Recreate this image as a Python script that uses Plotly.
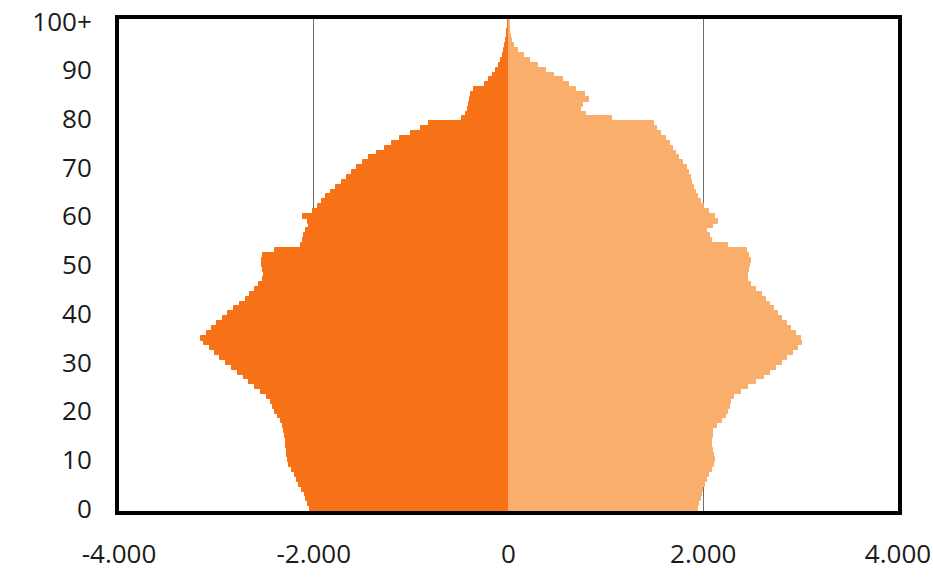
import plotly.graph_objects as go

# single years of age 0 .. 100+
ages = list(range(101))

# male counts (drawn to the left)
male = [
    2040, 2060, 2080, 2095, 2120, 2150, 2170, 2190, 2220, 2250,
    2265, 2270, 2275, 2280, 2290, 2295, 2305, 2315, 2340, 2370,
    2400, 2420, 2435, 2480, 2540, 2600, 2660, 2720, 2780, 2840,
    2900, 2960, 3010, 3070, 3130, 3160, 3100, 3045, 2990, 2930,
    2880, 2820, 2760, 2700, 2650, 2600, 2560, 2520, 2510, 2520,
    2530, 2535, 2520, 2400, 2130, 2110, 2100, 2080, 2045, 2060,
    2110, 2010, 1960, 1920, 1870, 1820, 1770, 1710, 1660, 1610,
    1560, 1490, 1430, 1350, 1270, 1200, 1110, 1000, 900, 820,
    480, 440, 420, 405, 395, 385, 350, 240, 200, 160,
    125, 100, 80, 60, 45, 35, 25, 18, 12, 8,
    10,
]

# female counts (drawn to the right)
female = [
    1950, 1960, 1975, 1985, 2000, 2020, 2035, 2060, 2090, 2110,
    2120, 2110, 2095, 2085, 2090, 2095, 2100, 2140, 2190, 2230,
    2255, 2275, 2290, 2320, 2390, 2460, 2540, 2620, 2690, 2750,
    2810, 2860, 2920, 2970, 3010, 3000, 2950, 2900, 2860, 2810,
    2770, 2730, 2690, 2640, 2600, 2540, 2490, 2460, 2455, 2465,
    2480, 2495, 2470, 2450, 2250, 2085, 2070, 2040, 2100, 2150,
    2120, 2060, 2010, 1975, 1950, 1930, 1905, 1885, 1870, 1855,
    1830, 1790, 1750, 1720, 1690, 1660, 1620, 1570, 1530, 1490,
    1060, 800, 740, 760, 830, 790, 690, 620, 560, 470,
    390, 300, 225, 160, 95, 60, 40, 25, 18, 12,
    15,
]

y_tickvals = [0, 10, 20, 30, 40, 50, 60, 70, 80, 90, 100]
y_ticktext = ["0", "10", "20", "30", "40", "50", "60", "70", "80", "90", "100+"]
x_tickvals = [-4000, -2000, 0, 2000, 4000]
x_ticktext = ["-4.000", "-2.000", "0", "2.000", "4.000"]

MALE_COLOR = "#F77116"
FEMALE_COLOR = "#F9AE6C"

fig = go.Figure()
fig.add_trace(go.Bar(
    y=ages, x=[-v for v in male], orientation="h", name="Männer",
    marker=dict(color=MALE_COLOR, line=dict(color=MALE_COLOR, width=1)),
))
fig.add_trace(go.Bar(
    y=ages, x=female, orientation="h", name="Frauen",
    marker=dict(color=FEMALE_COLOR, line=dict(color=FEMALE_COLOR, width=1)),
))

fig.update_layout(
    width=933, height=582,
    margin=dict(l=119, r=35, t=19, b=71, autoexpand=False),
    barmode="relative", bargap=0,
    showlegend=False,
    paper_bgcolor="white", plot_bgcolor="white",
    font=dict(family="Open Sans, DejaVu Sans, sans-serif", size=26, color="#1a1a1a"),
)
fig.update_xaxes(
    range=[-4000, 4000], tickvals=x_tickvals, ticktext=x_ticktext,
    showgrid=True, gridcolor="#6e6e6e", gridwidth=1, zeroline=False,
    showline=True, linecolor="black", linewidth=4, mirror=True,
    ticks="", ticklabelstandoff=17, ticklabeloverflow="allow", fixedrange=True,
)
fig.update_yaxes(
    range=[-0.5, 100.5], tickvals=y_tickvals, ticktext=y_ticktext,
    showgrid=False, zeroline=False,
    showline=True, linecolor="black", linewidth=4, mirror=True,
    ticks="", ticklabelstandoff=18, ticklabeloverflow="allow", fixedrange=True,
)

# drop the default body margin so the figure fills the window exactly
fig.write_html(
    "out.html",
    config={"displayModeBar": False},
    post_script="document.body.style.margin = '0';",
)
